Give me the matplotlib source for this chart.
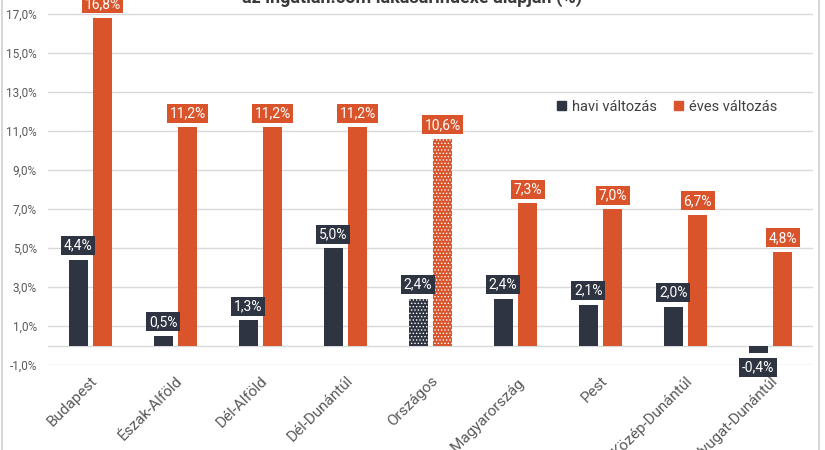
import matplotlib.pyplot as plt
import numpy as np
from matplotlib.patches import Patch
from matplotlib.lines import Line2D
from matplotlib.ticker import FuncFormatter

categories = ['Budapest', 'Észak-Alföld', 'Dél-Alföld', 'Dél-Dunántúl', 'Országos',
              'Észak-Magyarország', 'Pest', 'Közép-Dunántúl', 'Nyugat-Dunántúl']
havi = [4.4, 0.5, 1.3, 5.0, 2.4, 2.4, 2.1, 2.0, -0.4]
eves = [16.8, 11.2, 11.2, 11.2, 10.6, 7.3, 7.0, 6.7, 4.8]
y_ticks = [-1, 1, 3, 5, 7, 9, 11, 13, 15, 17]
highlight = 'Országos'
title = 'az ingatlan.com lakásárindexe alapján (%)'

DARK = '#2E3441'
ORANGE = '#D9532B'
GRAY = '#595959'

plt.rcParams['font.family'] = ['Roboto', 'DejaVu Sans']
plt.rcParams['hatch.linewidth'] = 0.6

fig = plt.figure(figsize=(8.25, 4.5), dpi=100)
# plot area runs past the top of the (cropped) image
ax = fig.add_axes([48 / 825, 85 / 450, 765 / 825, 390 / 450])

x = np.arange(len(categories))
w = 0.225
off = 0.145


def fmt(v):
    return f'{v:.1f}'.replace('.', ',') + '%'


for i, cat in enumerate(categories):
    hatch = '.....' if cat == highlight else None
    for val, dx, col in [(havi[i], -off, DARK), (eves[i], off, ORANGE)]:
        ax.bar(x[i] + dx, val, width=w, color=col, zorder=3,
               hatch=hatch, edgecolor='white' if hatch else col, linewidth=0)
        ax.annotate(fmt(val), (x[i] + dx, val),
                    xytext=(0, 5 if val >= 0 else -5), textcoords='offset points',
                    ha='center', va='bottom' if val >= 0 else 'top',
                    color='white', fontsize=10, zorder=4,
                    bbox=dict(boxstyle='square,pad=0.18', fc=col, ec='none'))

ax.set_xlim(-0.5, len(categories) - 0.5)
ax.set_ylim(-1.0, 19.0)
ax.set_yticks(y_ticks)
ax.yaxis.set_major_formatter(FuncFormatter(lambda v, p: fmt(v)))
ax.grid(axis='y', color='#D9D9D9', linewidth=1, zorder=0)
ax.axhline(0, color='#D9D9D9', linewidth=1, zorder=1)
for s in ax.spines.values():
    s.set_visible(False)
ax.tick_params(axis='y', length=0, pad=8, labelsize=8.5, labelcolor=GRAY)
ax.tick_params(axis='x', length=0, pad=6, labelsize=11, labelcolor=GRAY)
ax.set_xticks(x)
ax.set_xticklabels(categories, rotation=45, ha='right', rotation_mode='anchor')

fig.text(412 / 825, 1 - 3 / 450, title, ha='center', va='baseline',
         fontsize=13, fontweight='bold', color='#3A3A3A')

handles = [Patch(color=DARK, label='havi változás'),
           Patch(color=ORANGE, label='éves változás')]
fig.legend(handles=handles, loc='center left', bbox_to_anchor=(550 / 825, 1 - 107 / 450),
           ncol=2, frameon=False, fontsize=10.5, handlelength=0.6, handleheight=0.6,
           handletextpad=0.4, columnspacing=1.2, borderpad=0, labelcolor='#404040')

# outer frame edges of the original chart
fig.add_artist(Line2D([1.5 / 825, 1.5 / 825], [0, 1], color='#D0D0D0', linewidth=1.2))
fig.add_artist(Line2D([819 / 825, 819 / 825], [0, 1], color='#D0D0D0', linewidth=1.2))

fig.savefig('out.png', dpi=100)
